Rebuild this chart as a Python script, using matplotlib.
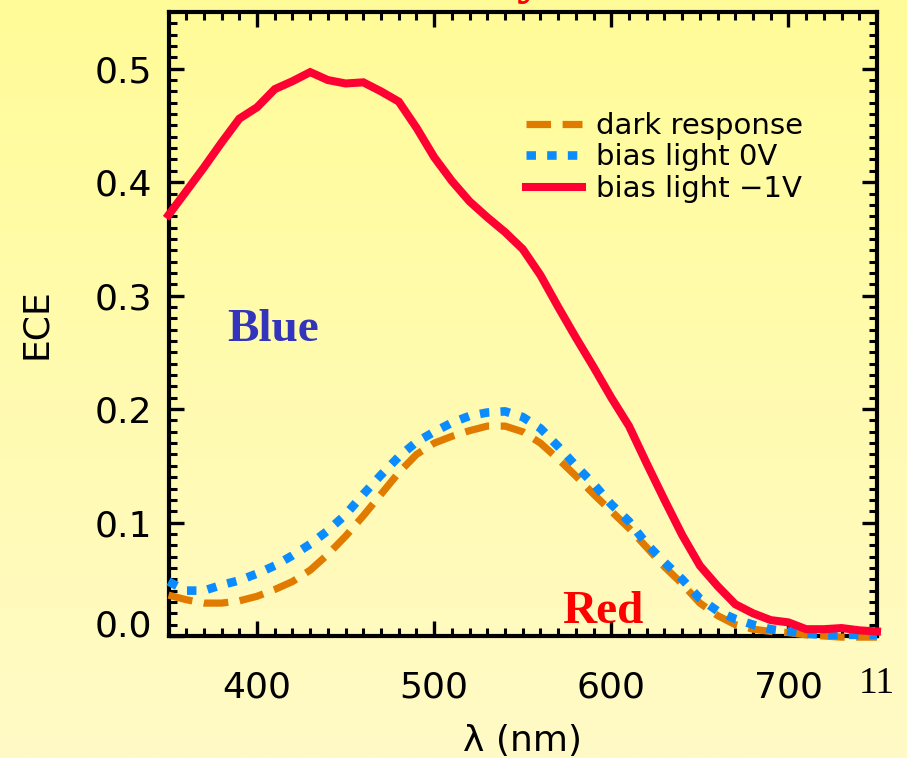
import numpy as np
import matplotlib
matplotlib.use("Agg")
import matplotlib.pyplot as plt
from matplotlib.ticker import MultipleLocator
from matplotlib.colors import LinearSegmentedColormap
from matplotlib.transforms import ScaledTranslation

# Wavelength grid (nm)
wavelength = list(range(350, 751, 10))

# External collection efficiency for each measurement condition
dark_response = [0.036, 0.032, 0.029, 0.029, 0.031, 0.035, 0.041, 0.048, 0.058, 0.072,
                 0.088, 0.106, 0.125, 0.144, 0.160, 0.170, 0.176, 0.181, 0.185, 0.185,
                 0.180, 0.170, 0.156, 0.141, 0.125, 0.110, 0.095, 0.078, 0.061, 0.046,
                 0.029, 0.018, 0.010, 0.006, 0.004, 0.003, 0.001, 0.000, -0.001, -0.001,
                 -0.001]
bias_0v = [0.048, 0.040, 0.040, 0.045, 0.049, 0.055, 0.062, 0.071, 0.081, 0.093,
           0.107, 0.125, 0.142, 0.158, 0.171, 0.180, 0.188, 0.194, 0.197, 0.198,
           0.193, 0.183, 0.167, 0.150, 0.134, 0.116, 0.101, 0.081, 0.065, 0.050,
           0.033, 0.022, 0.015, 0.010, 0.006, 0.004, 0.002, 0.001, 0.001, 0.001,
           0.001]
bias_m1v = [0.371, 0.392, 0.413, 0.435, 0.456, 0.466, 0.482, 0.489, 0.497, 0.490,
            0.487, 0.488, 0.480, 0.471, 0.448, 0.422, 0.401, 0.383, 0.369, 0.356,
            0.341, 0.318, 0.290, 0.263, 0.237, 0.210, 0.185, 0.152, 0.120, 0.089,
            0.062, 0.044, 0.028, 0.020, 0.014, 0.012, 0.006, 0.006, 0.007, 0.005,
            0.004]

series_labels = ["dark response", "bias light 0V", "bias light \u22121V"]
x_ticks = [400, 500, 600, 700]
y_ticks = [0.0, 0.1, 0.2, 0.3, 0.4, 0.5]

W, H, DPI = 907, 758, 100
fig = plt.figure(figsize=(W / DPI, H / DPI), dpi=DPI)
plt.rcParams["font.family"] = ["DejaVu Sans"]

# Soft yellow page background
bg = fig.add_axes([0, 0, 1, 1], zorder=-10)
bg.axis("off")
cmap = LinearSegmentedColormap.from_list("page", ["#FFFC98", "#FFFAC6"])
grad = np.linspace(0, 1, 256).reshape(-1, 1)
bg.imshow(grad, aspect="auto", cmap=cmap, extent=[0, 1, 0, 1], origin="upper")
bg.set_xlim(0, 1)
bg.set_ylim(0, 1)

ax = fig.add_axes([168.5 / W, 1 - 636 / H, (877 - 168.5) / W, (636 - 12) / H])
ax.patch.set_alpha(0)

ax.plot(wavelength, dark_response, color="#E07B00", lw=5.2,
        linestyle=(0, (3.4, 1.6)), dash_capstyle="butt", label=series_labels[0],
        clip_on=False, zorder=3)
ax.plot(wavelength, bias_0v, color="#0A8CFF", lw=6.2,
        linestyle=(0, (1.1, 1.3)), dash_capstyle="butt", label=series_labels[1],
        clip_on=False, zorder=4)
ax.plot(wavelength, bias_m1v, color="#FF0033", lw=5.8, solid_joinstyle="miter",
        label=series_labels[2], clip_on=False, zorder=5)

ax.set_xlim(350, 750)
ax.set_ylim(0, 0.55)
ax.set_xticks(x_ticks)
ax.set_yticks(y_ticks)
ax.set_yticklabels([f"{v:.1f}" for v in y_ticks])
ax.xaxis.set_minor_locator(MultipleLocator(10))
ax.yaxis.set_minor_locator(MultipleLocator(0.01))
ax.tick_params(which="both", direction="in", top=True, right=True, color="black")
ax.tick_params(which="major", length=11, width=2.4, labelsize=26)
ax.tick_params(which="minor", length=5.5, width=2.2)
ax.tick_params(axis="x", which="major", pad=25)
ax.tick_params(axis="y", which="major", pad=12)
for s in ax.spines.values():
    s.set_linewidth(3)

# The lowest y label sits just above the x axis line
fig.canvas.draw()
ylabs = ax.get_yticklabels()
ylabs[0].set_transform(ylabs[0].get_transform() +
                       ScaledTranslation(0, 13 / DPI, fig.dpi_scale_trans))

ax.set_xlabel("\u03bb (nm)", fontsize=26, labelpad=14)
ax.set_ylabel("ECE", fontsize=26, labelpad=30)

leg = ax.legend(loc="upper left", bbox_to_anchor=(0.504, 0.84), frameon=False,
                fontsize=21, handlelength=1.95, handletextpad=0.45,
                labelspacing=0.12, borderpad=0, borderaxespad=0)

ax.text(0.083, 0.49, "Blue", transform=ax.transAxes, color="#3333BB",
        fontsize=34, fontweight="bold", family="Liberation Serif", va="center")
ax.text(0.555, 0.038, "Red", transform=ax.transAxes, color="#FF0000",
        fontsize=34, fontweight="bold", family="Liberation Serif", va="center")

fig.text(877 / W, 1 - 684 / H, "11", fontsize=27, family="Liberation Serif",
         ha="center", va="center", color="black")
# Tail of the slide title that runs off the top edge
fig.text(530 / W, 1 + 22 / H, "y", fontsize=40, family="Liberation Serif",
         fontweight="bold", color="#FF0000", ha="center", va="center")

fig.savefig("out.png", dpi=DPI)
